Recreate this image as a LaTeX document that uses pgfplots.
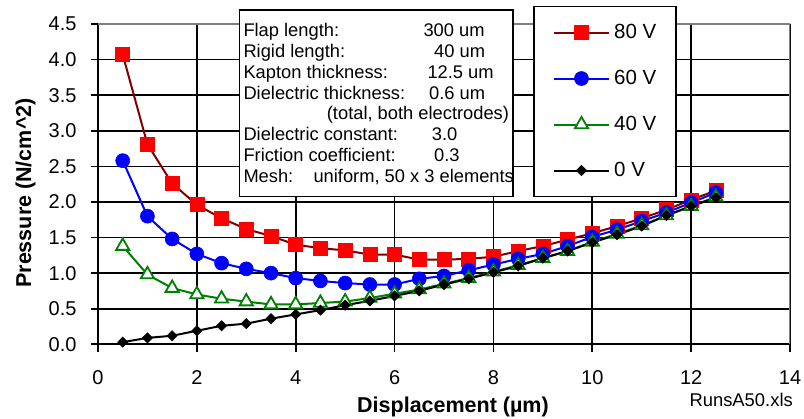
\documentclass[border=0pt]{standalone}
\usepackage{pgfplots}
\pgfplotsset{compat=1.18}
\usepackage{fontspec}
\setmainfont{Liberation Sans}
\definecolor{darkred}{HTML}{800000}
\definecolor{xlgreen}{HTML}{008000}
\definecolor{framegray}{HTML}{808080}

\pgfplotstableread{
x    v80   v60   v40   v0
0.5  4.07  2.58  1.38  0.03
1.0  2.81  1.80  0.98  0.09
1.5  2.26  1.48  0.79  0.12
2.0  1.96  1.27  0.70  0.19
2.5  1.77  1.14  0.64  0.26
3.0  1.62  1.06  0.60  0.29
3.5  1.52  1.00  0.56  0.36
4.0  1.40  0.93  0.56  0.42
4.5  1.35  0.89  0.58  0.48
5.0  1.32  0.86  0.60  0.55
5.5  1.26  0.84  0.65  0.61
6.0  1.26  0.84  0.71  0.68
6.5  1.19  0.92  0.77  0.75
7.0  1.19  0.96  0.85  0.84
7.5  1.20  1.04  0.93  0.92
8.0  1.23  1.12  1.02  1.01
8.5  1.31  1.20  1.11  1.10
9.0  1.38  1.27  1.21  1.21
9.5  1.47  1.38  1.31  1.31
10.0 1.56  1.51  1.44  1.43
10.5 1.66  1.61  1.55  1.54
11.0 1.77  1.73  1.67  1.66
11.5 1.89  1.85  1.81  1.81
12.0 2.03  1.99  1.94  1.94
12.5 2.16  2.13  2.07  2.06
}\datatable

\begin{document}
\begin{tikzpicture}
\path[use as bounding box] (0,0) rectangle (804bp,419bp);
\begin{axis}[
  at={(98bp,74.7bp)}, anchor=south west,
  width=692bp, height=320.3bp, scale only axis,
  xmin=0, xmax=14, ymin=0, ymax=4.5,
  xtick={0,2,4,6,8,10,12,14},
  ytick={0,0.5,1,1.5,2,2.5,3,3.5,4,4.5},
  /pgf/number format/assume math mode=true,
  tick label style={font=\fontsize{20bp}{24bp}\selectfont, inner sep=0pt},
  yticklabel style={/pgf/number format/fixed, /pgf/number format/fixed zerofill, /pgf/number format/precision=1, xshift=-13.8bp},
  xticklabel style={yshift=-19bp},
  grid=major,
  major grid style={black, line width=1.6bp},
  axis line style={draw=none},
  tick pos=left,
  tick align=outside,
  major tick length=7.5bp,
  tick style={black, line width=1.6bp},
  xlabel={Displacement (µm)},
  ylabel={Pressure (N/cm\^{}2)},
  label style={font=\fontsize{21.5bp}{26bp}\selectfont\bfseries},
  xlabel style={at={(axis description cs:0.513,-0.2114)}, anchor=base},
  ylabel style={at={(axis description cs:-0.0968,0.4724)}, anchor=base},
  legend cell align=left,
  legend style={
    at={(axis description cs:0.6286,1.0571)}, anchor=north west,
    draw=black, line width=1.6bp, fill=white,
    inner xsep=19.4bp, inner ysep=16bp,
    /tikz/row sep=26bp, /tikz/column sep=4.4bp,
    nodes={inner sep=0pt, minimum height=20bp},
    font=\fontsize{20.5bp}{24bp}\selectfont,
  },
  legend image code/.code={\draw[mark repeat=2,mark phase=2,#1] plot coordinates {(0bp,0bp) (27.3bp,0bp) (54.6bp,0bp)};},
]
\draw[black, line width=1.6bp] (rel axis cs:0,1) -- (rel axis cs:0,0) -- (rel axis cs:1,0);
\draw[framegray, line width=1.6bp] (rel axis cs:0,1) -- (rel axis cs:1,1) -- (rel axis cs:1,0);
\addplot[darkred, line width=2bp, mark=square*, mark size=7bp, mark options={solid, fill=red, draw=red, line width=0.6bp}] table[x=x, y=v80] {\datatable};
\addlegendentry{80 V}
\addplot[blue, line width=2bp, mark=*, mark size=7bp, mark options={solid, fill=blue, draw=blue, line width=0.6bp}] table[x=x, y=v60] {\datatable};
\addlegendentry{60 V}
\addplot[xlgreen, line width=2bp, mark=triangle*, mark size=7.6bp, mark options={solid, fill=white, draw=xlgreen, line width=1.8bp}] table[x=x, y=v40] {\datatable};
\addlegendentry{40 V}
\addplot[black, line width=2bp, mark=square*, mark size=3.6bp, mark options={solid, rotate=45, fill=black, draw=black, line width=0.6bp}] table[x=x, y=v0] {\datatable};
\addlegendentry{0 V}
\end{axis}
% parameter text box
\draw[line width=1.6bp, fill=white] (239.3bp,409bp) rectangle (512.7bp,222.3bp);
\begin{scope}[every node/.style={anchor=base west, inner sep=0pt, font=\fontsize{18.3bp}{21bp}\selectfont}]
\node at (243.3bp,382.3bp) {Flap length:};
\node at (423.3bp,382.3bp) {300 um};
\node at (243.3bp,361.5bp) {Rigid length:};
\node at (434bp,361.5bp) {40 um};
\node at (243.3bp,340.7bp) {Kapton thickness:};
\node at (427.3bp,340.7bp) {12.5 um};
\node at (243.3bp,319.9bp) {Dielectric thickness:};
\node at (429bp,319.9bp) {0.6 um};
\node at (326.7bp,299.1bp) {(total, both electrodes)};
\node at (243.3bp,278.3bp) {Dielectric constant:};
\node at (431.7bp,278.3bp) {3.0};
\node at (243.3bp,257.5bp) {Friction coefficient:};
\node at (434bp,257.5bp) {0.3};
\node at (243.3bp,236.7bp) {Mesh:};
\node at (313.3bp,236.7bp) {uniform, 50 x 3 elements};
\end{scope}
\node[anchor=base east, inner sep=0pt, font=\fontsize{18.4bp}{21bp}\selectfont] at (793bp,13bp) {RunsA50.xls};
\end{tikzpicture}
\end{document}
